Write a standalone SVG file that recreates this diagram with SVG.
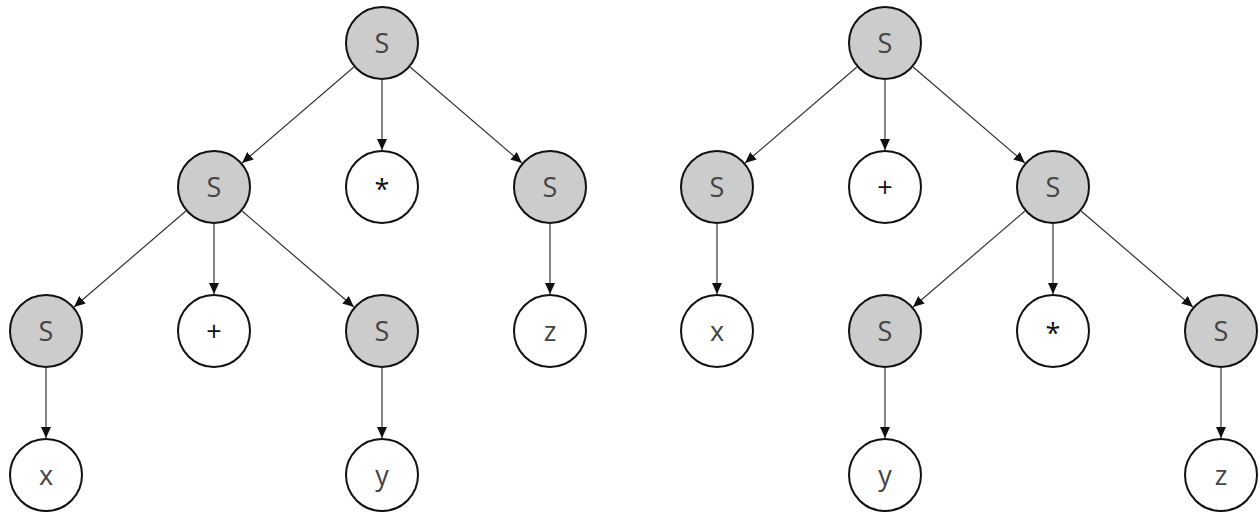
<svg xmlns="http://www.w3.org/2000/svg" width="1260" height="514" viewBox="0 0 1260 514">
<defs>
<style>
.n circle{stroke:#111;stroke-width:2}
.s circle{fill:#cccccc}
.t circle{fill:#ffffff}
.n text{font-family:"Open Sans","DejaVu Sans",sans-serif;font-size:27px;fill:#444;text-anchor:middle}
.n text.op{fill:#111}
#edges line{stroke:#333;stroke-width:1.2;marker-end:url(#ah)}
</style>
<marker id="ah" markerUnits="userSpaceOnUse" markerWidth="11" markerHeight="10" refX="11" refY="5" orient="auto" viewBox="0 0 11 10">
<path d="M0,0 L11,5 L0,10 z" fill="#111"/>
</marker>
</defs>
<rect width="1260" height="514" fill="#fff"/>
<g id="edges">
<line x1="353.91" y1="67.08" x2="242.09" y2="162.92"/>
<line x1="382" y1="80" x2="382" y2="150"/>
<line x1="410.09" y1="67.08" x2="521.91" y2="162.92"/>
<line x1="185.91" y1="211.08" x2="74.09" y2="306.92"/>
<line x1="214" y1="224" x2="214" y2="294"/>
<line x1="242.09" y1="211.08" x2="353.91" y2="306.92"/>
<line x1="550" y1="224" x2="550" y2="294"/>
<line x1="46" y1="368" x2="46" y2="438"/>
<line x1="382" y1="368" x2="382" y2="438"/>
<line x1="856.91" y1="67.08" x2="745.09" y2="162.92"/>
<line x1="885" y1="80" x2="885" y2="150"/>
<line x1="913.09" y1="67.08" x2="1024.91" y2="162.92"/>
<line x1="717" y1="224" x2="717" y2="294"/>
<line x1="1024.91" y1="211.08" x2="913.09" y2="306.92"/>
<line x1="1053" y1="224" x2="1053" y2="294"/>
<line x1="1081.09" y1="211.08" x2="1192.91" y2="306.92"/>
<line x1="885" y1="368" x2="885" y2="438"/>
<line x1="1221" y1="368" x2="1221" y2="438"/>
</g>
<g id="L_root" class="n s"><circle cx="382" cy="43" r="36"/><text x="382" y="53">S</text></g>
<g id="L_S1" class="n s"><circle cx="214" cy="187" r="36"/><text x="214" y="197">S</text></g>
<g id="L_star" class="n t"><circle cx="382" cy="187" r="36"/><text class="op" x="382" y="199">*</text></g>
<g id="L_S2" class="n s"><circle cx="550" cy="187" r="36"/><text x="550" y="197">S</text></g>
<g id="L_S3" class="n s"><circle cx="46" cy="331" r="36"/><text x="46" y="341">S</text></g>
<g id="L_plus" class="n t"><circle cx="214" cy="331" r="36"/><text class="op" x="214" y="341">+</text></g>
<g id="L_S4" class="n s"><circle cx="382" cy="331" r="36"/><text x="382" y="341">S</text></g>
<g id="L_z" class="n t"><circle cx="550" cy="331" r="36"/><text x="550" y="341">z</text></g>
<g id="L_x" class="n t"><circle cx="46" cy="475" r="36"/><text x="46" y="485">x</text></g>
<g id="L_y" class="n t"><circle cx="382" cy="475" r="36"/><text x="382" y="485">y</text></g>
<g id="R_root" class="n s"><circle cx="885" cy="43" r="36"/><text x="885" y="53">S</text></g>
<g id="R_S1" class="n s"><circle cx="717" cy="187" r="36"/><text x="717" y="197">S</text></g>
<g id="R_plus" class="n t"><circle cx="885" cy="187" r="36"/><text class="op" x="885" y="197">+</text></g>
<g id="R_S2" class="n s"><circle cx="1053" cy="187" r="36"/><text x="1053" y="197">S</text></g>
<g id="R_x" class="n t"><circle cx="717" cy="331" r="36"/><text x="717" y="341">x</text></g>
<g id="R_S3" class="n s"><circle cx="885" cy="331" r="36"/><text x="885" y="341">S</text></g>
<g id="R_star" class="n t"><circle cx="1053" cy="331" r="36"/><text class="op" x="1053" y="343">*</text></g>
<g id="R_S4" class="n s"><circle cx="1221" cy="331" r="36"/><text x="1221" y="341">S</text></g>
<g id="R_y" class="n t"><circle cx="885" cy="475" r="36"/><text x="885" y="485">y</text></g>
<g id="R_z" class="n t"><circle cx="1221" cy="475" r="36"/><text x="1221" y="485">z</text></g>
</svg>
